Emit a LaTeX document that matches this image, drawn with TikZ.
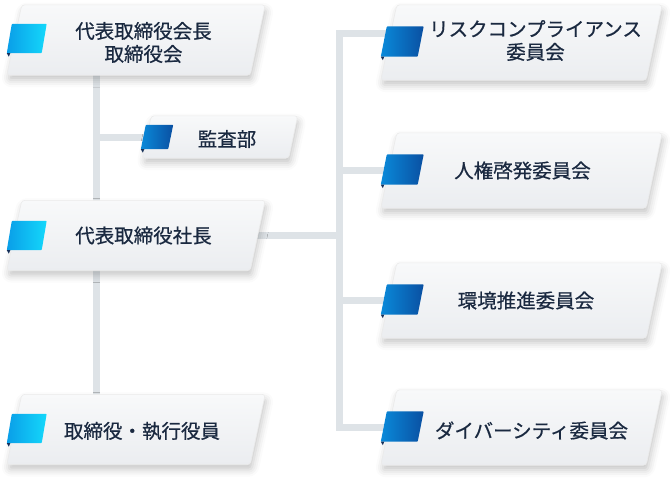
\documentclass[tikz,border=0pt]{standalone}
\usepackage{fontspec}
\setmainfont{Noto Sans CJK JP}[FakeBold=0.6]
\usetikzlibrary{positioning,shadows.blur,backgrounds}
\definecolor{linkgray}{HTML}{DEE3E7}
\definecolor{inkblue}{HTML}{1A2940}
\definecolor{panelhi}{HTML}{F8F9FA}
\definecolor{panello}{HTML}{EBEDF0}
\definecolor{cyanL}{HTML}{0A9EE8}
\definecolor{cyanR}{HTML}{14D8FB}
\definecolor{blueL}{HTML}{0A8ADA}
\definecolor{blueR}{HTML}{0A50A2}
\definecolor{foldnavy}{HTML}{15305A}
\tikzset{
  panel/.style={rectangle,inner sep=0pt,minimum width=243pt,minimum height=70pt},
  widepanel/.style={panel,minimum width=265pt,minimum height=75pt},
  smallpanel/.style={panel,minimum width=146pt,minimum height=42pt},
  panelfill/.style={rounded corners=3pt,draw=white!92!black,line width=0.6pt,
    top color=panelhi,bottom color=panello,
    blur shadow={shadow xshift=1.5pt,shadow yshift=-5pt,shadow blur radius=7pt,shadow opacity=22}},
  tabbox/.style={rectangle,inner sep=0pt,anchor=west,minimum width=34.5pt,minimum height=29pt},
  tabwide/.style={tabbox,minimum width=36.5pt,minimum height=30pt},
  tabsmall/.style={tabbox,minimum width=27pt,minimum height=24pt},
  cyanfill/.style={rounded corners=0.8pt,left color=cyanL,right color=cyanR},
  bluefill/.style={rounded corners=0.8pt,left color=blueL,right color=blueR},
  paneltext/.style={text=inkblue,align=center,font=\fontsize{19.5}{23}\selectfont,inner sep=0pt},
  link/.style={draw=linkgray,line width=7pt}
}
% slanted face over a rectangular node: #1 fill style, #2 node, #3 half slant
\newcommand{\slab}[3]{\path[#1] ([xshift=-#3]#2.south west) -- ([xshift=#3]#2.north west)
  -- ([xshift=#3]#2.north east) -- ([xshift=-#3]#2.south east) -- cycle;}
\newcommand{\fold}[2]{\fill[foldnavy] ([xshift=-#2]#1.south west) -- ++(3.5,0) -- ++(-1.5,3.5) -- cycle;}

\begin{document}
\begin{tikzpicture}[x=1pt,y=-1pt]
  \useasboundingbox (0,0) rectangle (670,480);
  % left column
  \node[panel] (chair) at (136,40) {};
  \slab{panelfill}{chair}{7.5pt}
  \node[tabbox] (chairtab) at ([xshift=-5pt,yshift=1.5pt]chair.west) {};
  \slab{cyanfill}{chairtab}{2.5pt}
  \fold{chairtab}{2.5pt}
  \node[paneltext] (chairtext) at ([xshift=7.5pt,yshift=-2.5pt]chair.center) {代表取締役会長\\取締役会};
  \node[smallpanel] (audit) at (220,137) {};
  \slab{panelfill}{audit}{4.5pt}
  \node[tabsmall] (audittab) at ([xshift=-3.5pt]audit.west) {};
  \slab{bluefill}{audittab}{2.5pt}
  \fold{audittab}{2.5pt}
  \node[paneltext] (audittext) at ([xshift=7pt,yshift=-2pt]audit.center) {監査部};
  \node[panel] (president) at (136,235.5) {};
  \slab{panelfill}{president}{7.5pt}
  \node[tabbox] (presidenttab) at ([xshift=-5pt]president.west) {};
  \slab{cyanfill}{presidenttab}{2.5pt}
  \fold{presidenttab}{2.5pt}
  \node[paneltext] (presidenttext) at ([xshift=7.5pt]president.center) {代表取締役社長};
  \node[panel] (exec) at (136,429.5) {};
  \slab{panelfill}{exec}{7.5pt}
  \node[tabbox] (exectab) at ([xshift=-5pt,yshift=1pt]exec.west) {};
  \slab{cyanfill}{exectab}{2.5pt}
  \fold{exectab}{2.5pt}
  \node[paneltext] (exectext) at ([xshift=6pt,yshift=-1.5pt]exec.center) {取締役・執行役員};
  % committees
  \node[widepanel] (risk) at (521.5,42.5) {};
  \slab{panelfill}{risk}{8pt}
  \node[tabwide] (risktab) at ([xshift=-5pt,yshift=1pt]risk.west) {};
  \slab{bluefill}{risktab}{3pt}
  \fold{risktab}{3pt}
  \node[paneltext] (risktext) at ([xshift=14pt,yshift=2pt]risk.center) {リスクコンプライアンス\\委員会};
  \node[widepanel] (rights) at (521.5,170.5) {};
  \slab{panelfill}{rights}{8pt}
  \node[tabwide] (rightstab) at ([xshift=-5pt,yshift=1pt]rights.west) {};
  \slab{bluefill}{rightstab}{3pt}
  \fold{rightstab}{3pt}
  \node[paneltext] (rightstext) at ([xshift=1pt]rights.center) {人権啓発委員会};
  \node[widepanel] (env) at (521.5,300.5) {};
  \slab{panelfill}{env}{8pt}
  \node[tabwide] (envtab) at ([xshift=-5pt,yshift=1pt]env.west) {};
  \slab{bluefill}{envtab}{3pt}
  \fold{envtab}{3pt}
  \node[paneltext] (envtext) at ([xshift=4.5pt]env.center) {環境推進委員会};
  \node[widepanel] (diversity) at (521.5,427.5) {};
  \slab{panelfill}{diversity}{8pt}
  \node[tabwide] (diversitytab) at ([xshift=-5pt,yshift=1pt]diversity.west) {};
  \slab{bluefill}{diversitytab}{3pt}
  \fold{diversitytab}{3pt}
  \node[paneltext] (diversitytext) at ([xshift=10pt,yshift=-3pt]diversity.center) {ダイバーシティ委員会};
  \coordinate[right=82pt of president.east] (hub);
  % connectors
  \begin{scope}[on background layer]
    \draw[link] ([xshift=-39.5pt]chair.center) -- ([xshift=-39.5pt]exec.center);
    \draw[link] (audit.center) -- ([xshift=-39.5pt]chair.center |- audit.center);
    \draw[link] (president.center) -- (hub);
    \draw[link] ([yshift=9.5pt]risk.center) -| (hub) |- (diversity.center);
    \draw[link] (rights.center) -- (rights.center -| hub);
    \draw[link] (env.center) -- (env.center -| hub);
  \end{scope}
\end{tikzpicture}
\end{document}
